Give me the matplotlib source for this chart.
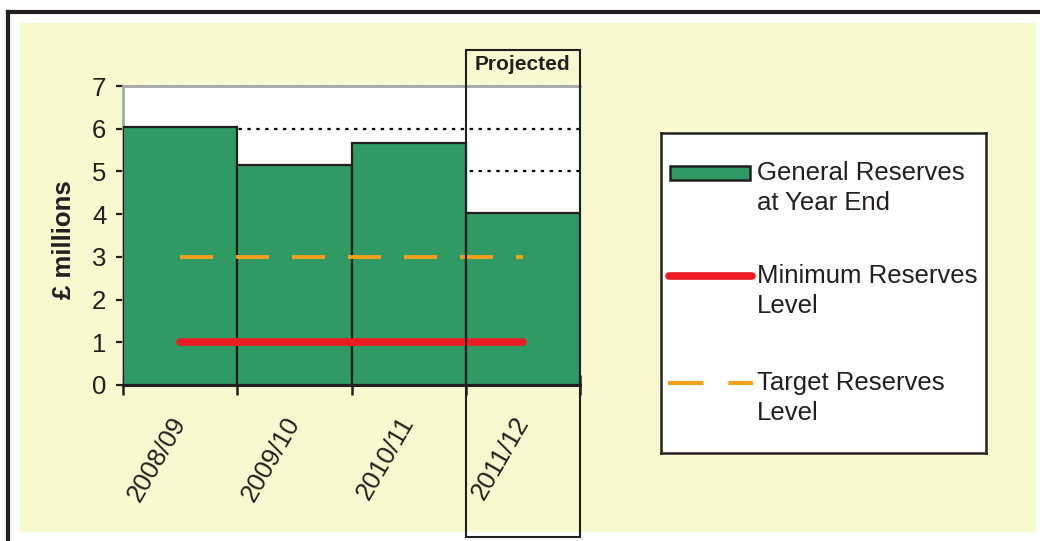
import matplotlib
matplotlib.use('Agg')
import matplotlib.pyplot as plt
from matplotlib.patches import Rectangle
from matplotlib.lines import Line2D
from matplotlib.transforms import blended_transform_factory

plt.rcParams['font.family'] = ['Liberation Sans', 'DejaVu Sans']

years = ['2008/09', '2009/10', '2010/11', '2011/12']
general_reserves = [6.05, 5.15, 5.67, 4.03]
minimum_level = [1, 1, 1, 1]
target_level = [3, 3, 3, 3]
legend_labels = ['General Reserves\nat Year End', 'Minimum Reserves\nLevel', 'Target Reserves\nLevel']

GREEN = '#309a65'
RED = '#ec1c24'
ORANGE = '#f6a01a'
CREAM = '#faf8cf'
TXT = '#231f20'

W, H = 1040, 541
fig = plt.figure(figsize=(W / 100, H / 100), dpi=100, facecolor='white')

# cream panel and the black frame lines
fig.add_artist(Rectangle((20 / W, 1 - 532 / H), 1016 / W, 509 / H,
                         transform=fig.transFigure, facecolor=CREAM, edgecolor='none', zorder=0))
fig.add_artist(Line2D([8 / W, 8 / W], [0, 1 - 12 / H], transform=fig.transFigure, color=TXT, lw=3))
fig.add_artist(Line2D([8 / W, 1], [1 - 12 / H, 1 - 12 / H], transform=fig.transFigure, color=TXT, lw=3))

ax = fig.add_axes([123 / W, 1 - 385 / H, 457 / W, 299 / H])
ax.set_facecolor('white')

x = list(range(len(years)))
ax.bar(x, general_reserves, width=1.0, color=GREEN, edgecolor=TXT, linewidth=1.6, zorder=3)
ax.plot(x, target_level, color=ORANGE, lw=2.8, dashes=(8.5, 5.9), zorder=4)
ax.plot(x, minimum_level, color=RED, lw=5.5, solid_capstyle='round', zorder=5)

ax.set_xlim(-0.5, len(years) - 0.5)
ax.set_ylim(0, 7)
ax.set_yticks(range(0, 8))
ax.yaxis.grid(True, color='black', lw=1.6, linestyle=(0, (1.5, 2.5)), zorder=1)
ax.set_axisbelow(True)

ax.tick_params(axis='y', direction='out', length=5, width=1.6, pad=7,
               labelsize=18.5, labelcolor=TXT, color=TXT)
ax.set_xticks(x)
ax.set_xticklabels(years, rotation=60, ha='right', va='center', rotation_mode='anchor',
                   fontsize=18.5, color=TXT)
ax.tick_params(axis='x', which='major', length=0, pad=24)
ax.set_xticks([i - 0.5 for i in range(len(years) + 1)], minor=True)
ax.tick_params(axis='x', which='minor', direction='inout', length=14, width=1.8, color=TXT)

ax.spines['right'].set_visible(False)
ax.spines['bottom'].set_color(TXT)
ax.spines['bottom'].set_linewidth(2.2)
ax.spines['bottom'].set_zorder(6)
ax.spines['left'].set_color('#a8a8a8')
ax.spines['left'].set_linewidth(2)
ax.spines['top'].set_color('#a8a8a8')
ax.spines['top'].set_linewidth(2)
ax.axvline(-0.5, color=TXT, lw=1.6, dashes=(1.5, 2.0), zorder=2)
ax.axhline(7, color='#888888', lw=1.2, dashes=(4, 4), zorder=2, clip_on=False)

ax.set_ylabel('£ millions', fontsize=18.5, fontweight='bold', color=TXT)
ax.yaxis.set_label_coords(-0.102, 0.485)

# box round the projected year
tr = blended_transform_factory(ax.transData, fig.transFigure)
ax.add_patch(Rectangle((2.5, 1 - 537 / H), 1.0, 487 / H, transform=tr, fill=False,
                       edgecolor=TXT, lw=1.5, clip_on=False, zorder=7))
ax.text(3, 1 - 65 / H, 'Projected', transform=tr, ha='center', va='center',
        fontsize=15, fontweight='bold', color=TXT)

# legend
lg = fig.add_axes([661 / W, 1 - 453 / H, 325 / W, 320 / H])
lg.set_xlim(0, 325)
lg.set_ylim(320, 0)
lg.set_xticks([])
lg.set_yticks([])
lg.set_facecolor('white')
for s in lg.spines.values():
    s.set_color(TXT)
    s.set_linewidth(1.8)

rows = [40, 143, 250]
lg.add_patch(Rectangle((9, rows[0] - 7), 80, 14, facecolor=GREEN, edgecolor=TXT, lw=1.8))
lg.plot([8, 91], [rows[1], rows[1]], color=RED, lw=5.5, solid_capstyle='round')
lg.plot([7, 92], [rows[2], rows[2]], color=ORANGE, lw=3, dashes=(8.5, 6))
for y0, label in zip(rows, legend_labels):
    for k, line in enumerate(label.split('\n')):
        lg.text(96, y0 + k * 30, line, ha='left', va='center', fontsize=18.5, color=TXT)

fig.savefig('out.png', dpi=100, facecolor='white')
